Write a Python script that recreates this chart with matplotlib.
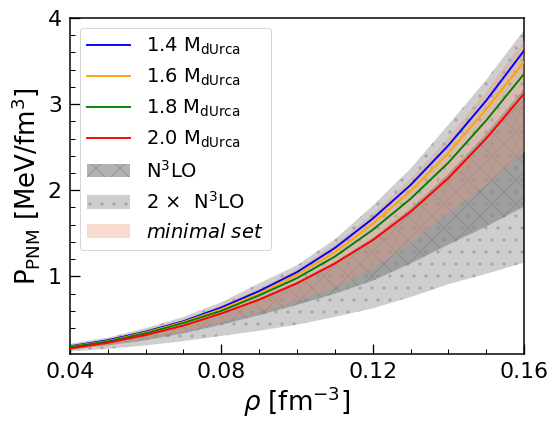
import numpy as np
import matplotlib.pyplot as plt
from matplotlib.ticker import MultipleLocator

# density grid [fm^-3]
rho = np.array([0.04, 0.05, 0.06, 0.07, 0.08, 0.09, 0.10, 0.11, 0.12, 0.13, 0.14, 0.15, 0.16])

# pressure of pure neutron matter at the dUrca threshold masses [MeV/fm^3]
p_14 = [0.19, 0.26, 0.36, 0.48, 0.64, 0.83, 1.05, 1.33, 1.67, 2.06, 2.52, 3.04, 3.62]
p_16 = [0.185, 0.25, 0.35, 0.47, 0.62, 0.80, 1.02, 1.28, 1.61, 1.99, 2.43, 2.94, 3.49]
p_18 = [0.18, 0.245, 0.34, 0.46, 0.60, 0.78, 0.98, 1.23, 1.54, 1.90, 2.32, 2.81, 3.35]
p_20 = [0.165, 0.23, 0.32, 0.43, 0.57, 0.73, 0.92, 1.15, 1.42, 1.75, 2.14, 2.60, 3.12]

# chiral EFT bands
n3lo_lo = [0.15, 0.20, 0.26, 0.34, 0.44, 0.55, 0.67, 0.80, 0.95, 1.15, 1.37, 1.58, 1.81]
n3lo_hi = [0.18, 0.24, 0.33, 0.44, 0.58, 0.75, 0.94, 1.17, 1.45, 1.79, 2.19, 2.66, 3.18]
n3lo2_lo = [0.13, 0.16, 0.20, 0.25, 0.31, 0.37, 0.44, 0.53, 0.63, 0.76, 0.91, 1.03, 1.16]
n3lo2_hi = [0.22, 0.29, 0.40, 0.53, 0.70, 0.92, 1.13, 1.43, 1.82, 2.25, 2.76, 3.28, 3.86]

# minimal set band
mini_lo = [0.15, 0.21, 0.28, 0.37, 0.48, 0.60, 0.72, 0.88, 1.10, 1.40, 1.75, 2.08, 2.45]
mini_hi = [0.21, 0.28, 0.38, 0.50, 0.67, 0.87, 1.09, 1.38, 1.73, 2.14, 2.62, 3.16, 3.75]

fig = plt.figure(figsize=(554 / 72, 424 / 72), dpi=72)
ax = fig.add_axes([0.126, 0.165, 0.82, 0.793])

ax.plot(rho, p_14, color="blue", lw=1.9, label=r"1.4 M$_{\rm dUrca}$", zorder=5)
ax.plot(rho, p_16, color="orange", lw=1.9, label=r"1.6 M$_{\rm dUrca}$", zorder=5)
ax.plot(rho, p_18, color="green", lw=1.9, label=r"1.8 M$_{\rm dUrca}$", zorder=5)
ax.plot(rho, p_20, color="red", lw=1.9, label=r"2.0 M$_{\rm dUrca}$", zorder=5)

ax.fill_between(rho, n3lo_lo, n3lo_hi, color="gray", alpha=0.6, hatch="x",
                lw=0, label=r"N$^3$LO", zorder=2)
ax.fill_between(rho, n3lo2_lo, n3lo2_hi, color="gray", alpha=0.38, hatch=".",
                lw=0, label=r"2 $\times$  N$^3$LO", zorder=1)
ax.fill_between(rho, mini_lo, mini_hi, color="darksalmon", alpha=0.35, lw=0,
                label=r"$\it{minimal\ set}$", zorder=3)

ax.set_xlim(0.04, 0.16)
ax.set_ylim(0.1, 4)
ax.set_xticks([0.04, 0.08, 0.12, 0.16])
ax.set_xticklabels(["0.04", "0.08", "0.12", "0.16"])
ax.set_yticks([1, 2, 3, 4])
ax.xaxis.set_minor_locator(MultipleLocator(0.01))
ax.yaxis.set_minor_locator(MultipleLocator(0.2))
ax.tick_params(which="major", direction="in", length=10, width=1.3, labelsize=22, pad=8)
ax.tick_params(which="minor", direction="in", length=5, width=1.0)
for s in ax.spines.values():
    s.set_linewidth(1.5)

ax.set_xlabel(r"$\rho$ [fm$^{-3}$]", fontsize=26, labelpad=2)
ax.set_ylabel(r"P$_{\rm PNM}$ [MeV/fm$^3$]", fontsize=26, labelpad=6)
ax.legend(loc="upper left", fontsize=19.5, handlelength=2.2, borderaxespad=0.5)

plt.savefig("out.png", dpi=72)
